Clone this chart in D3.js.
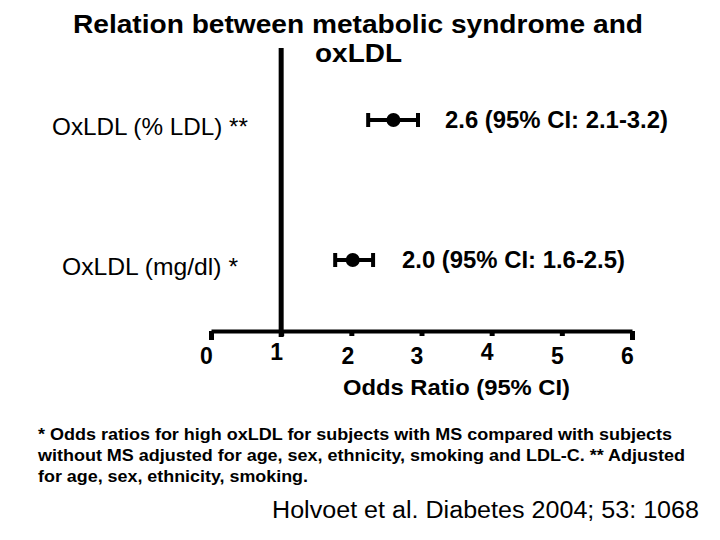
<!DOCTYPE html>
<html>
<head>
<meta charset="utf-8">
<script src="https://cdn.jsdelivr.net/npm/d3@7"></script>
<style>
  body { margin: 0; background: #fff; }
  svg text { font-family: "Liberation Sans", Arial, sans-serif; fill: #000; }
</style>
</head>
<body>
<svg id="chart" width="720" height="540"></svg>
<script>
// rows of the forest plot, top to bottom
var rowNames = ["OxLDL (% LDL) **", "OxLDL (mg/dl) *"];
var oddsRatio = [2.6, 2.02];
// whisker ends as drawn in the picture
var ciLow = [2.24, 1.77];
var ciHigh = [2.95, 2.31];
var ciLabels = ["2.6 (95% CI: 2.1-3.2)", "2.0 (95% CI: 1.6-2.5)"];
var tickValues = [0, 1, 2, 3, 4, 5, 6];
var refLine = 1;

var svg = d3.select("#chart");

var x = d3.scaleLinear().domain([0, 6]).range([211, 632]);
var y = d3.scalePoint().domain(rowNames).range([120, 260]);
var axisY = 331;

// title
svg.append("text")
    .attr("x", 73).attr("y", 33)
    .style("font", "bold 26px 'Liberation Sans', Arial, sans-serif")
    .attr("textLength", 570).attr("lengthAdjust", "spacingAndGlyphs")
    .text("Relation between metabolic syndrome and");
svg.append("text")
    .attr("x", 315).attr("y", 62)
    .style("font", "bold 26px 'Liberation Sans', Arial, sans-serif")
    .attr("textLength", 87).attr("lengthAdjust", "spacingAndGlyphs")
    .text("oxLDL");

// vertical reference line at OR = 1
svg.append("line")
    .attr("x1", x(refLine)).attr("x2", x(refLine))
    .attr("y1", 48).attr("y2", axisY + 6)
    .attr("stroke", "#000").attr("stroke-width", 5);

// x axis
var axis = d3.axisBottom(x).tickValues(tickValues).tickFormat(d3.format("d"))
    .tickSize(5).tickSizeOuter(0).tickPadding(10);
var gx = svg.append("g").attr("transform", "translate(0," + axisY + ")").call(axis);
gx.select(".domain").attr("stroke", "#000").attr("stroke-width", 4);
gx.selectAll(".tick line").attr("stroke", "#000").attr("stroke-width", 5)
    .attr("y2", d => (d === 0 || d === 6) ? 9 : 5);
gx.selectAll(".tick text")
    .style("font", "bold 23px 'Liberation Sans', Arial, sans-serif")
    .attr("y", 0).attr("dy", null)
    .attr("transform", d => "translate(" + (d === 2 ? -4 : -5) + "," + ((d === 1 || d === 4) ? 29 : 33) + ")");

svg.append("text")
    .attr("x", 343).attr("y", 395)
    .style("font", "bold 22px 'Liberation Sans', Arial, sans-serif")
    .attr("textLength", 227).attr("lengthAdjust", "spacingAndGlyphs")
    .text("Odds Ratio (95% CI)");

// row labels
svg.selectAll(".rowname").data(rowNames).enter().append("text")
    .attr("class", "rowname")
    .attr("x", (d, i) => i === 0 ? 52 : 62)
    .attr("y", d => y(d) + 15)
    .style("font", "24px 'Liberation Sans', Arial, sans-serif")
    .attr("textLength", (d, i) => i === 0 ? 196 : 176).attr("lengthAdjust", "spacingAndGlyphs")
    .text(d => d);

// whiskers, caps and points
var rows = svg.selectAll(".row").data(rowNames).enter().append("g").attr("class", "row");
rows.append("line")
    .attr("x1", (d, i) => x(ciLow[i])).attr("x2", (d, i) => x(ciHigh[i]))
    .attr("y1", d => y(d)).attr("y2", d => y(d))
    .attr("stroke", "#000").attr("stroke-width", 4);
rows.append("line")
    .attr("x1", (d, i) => x(ciLow[i])).attr("x2", (d, i) => x(ciLow[i]))
    .attr("y1", d => y(d) - 7).attr("y2", d => y(d) + 7)
    .attr("stroke", "#000").attr("stroke-width", 4);
rows.append("line")
    .attr("x1", (d, i) => x(ciHigh[i])).attr("x2", (d, i) => x(ciHigh[i]))
    .attr("y1", d => y(d) - 7).attr("y2", d => y(d) + 7)
    .attr("stroke", "#000").attr("stroke-width", 4);
rows.append("circle")
    .attr("cx", (d, i) => x(oddsRatio[i])).attr("cy", d => y(d))
    .attr("r", 7).attr("fill", "#000");
rows.append("text")
    .attr("x", (d, i) => i === 0 ? 445 : 402)
    .attr("y", d => y(d) + 8)
    .style("font", "bold 23px 'Liberation Sans', Arial, sans-serif")
    .attr("textLength", 223).attr("lengthAdjust", "spacingAndGlyphs")
    .text((d, i) => ciLabels[i]);

// footnote
var notes = [
  "* Odds ratios for high oxLDL for subjects with MS compared with subjects",
  "without MS adjusted for age, sex, ethnicity, smoking and LDL-C. ** Adjusted",
  "for age, sex, ethnicity, smoking."
];
var noteWidths = [634, 647, 270];
svg.selectAll(".note").data(notes).enter().append("text")
    .attr("class", "note")
    .attr("x", 38).attr("y", (d, i) => 440 + i * 21)
    .style("font", "bold 16px 'Liberation Sans', Arial, sans-serif")
    .attr("textLength", (d, i) => noteWidths[i]).attr("lengthAdjust", "spacingAndGlyphs")
    .text(d => d);

svg.append("text")
    .attr("x", 272).attr("y", 518)
    .style("font", "23px 'Liberation Sans', Arial, sans-serif")
    .attr("textLength", 427).attr("lengthAdjust", "spacingAndGlyphs")
    .text("Holvoet et al. Diabetes 2004; 53: 1068");
</script>
</body>
</html>
